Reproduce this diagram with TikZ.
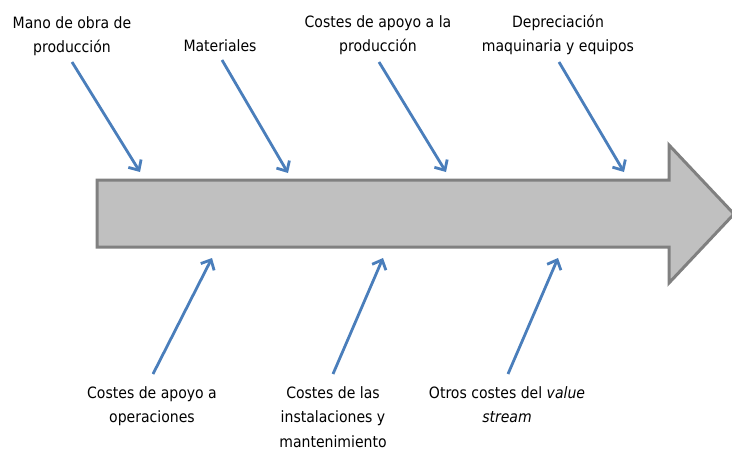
\documentclass[tikz,border=0pt]{standalone}
\usepackage{fontspec}
\setmainfont{DejaVu Sans Condensed}
\usetikzlibrary{arrows.meta}
\definecolor{arrowblue}{HTML}{4A7EBB}
\definecolor{bodygray}{HTML}{C0C0C0}
\definecolor{edgegray}{HTML}{808080}
\begin{document}
\begin{tikzpicture}[x=1pt,y=-1pt,
  lbl/.style={align=center,font=\fontsize{15.6}{24.5}\selectfont,inner sep=0pt},
  cause/.style={draw=arrowblue,line width=2.8pt,-{Straight Barb[length=8pt,width=15pt,line width=2.8pt]}}]
\useasboundingbox (0,0) rectangle (732,448);
% big arrow
\draw[fill=bodygray,draw=edgegray,line width=3pt,line join=miter]
  (97,180) -- (669,180) -- (669,145) -- (734,214) -- (669,283) -- (669,247) -- (97,247) -- cycle;
% labels top
\node[lbl] (l1) at (72,36) {Mano de obra de\\producción};
\node[lbl] (l2) at (220,46) {Materiales};
\node[lbl] (l3) at (378,35) {Costes de apoyo a la\\producción};
\node[lbl] (l4) at (558,35) {Depreciación\\maquinaria y equipos};
% labels bottom
\node[lbl,anchor=north] (l5) at (152,386) {Costes de apoyo a\\operaciones};
\node[lbl,anchor=north] (l6) at (333,386) {Costes de las\\instalaciones y\\mantenimiento};
\node[lbl,anchor=north] (l7) at (507,386) {Otros costes del \textit{value}\\\textit{stream}};
% coordinates
\coordinate (s1) at (72,62);  \coordinate (e1) at (140,172);
\coordinate (s2) at (222,60); \coordinate (e2) at (288,173);
\coordinate (s3) at (379,62); \coordinate (e3) at (446,172);
\coordinate (s4) at (559,62); \coordinate (e4) at (624,172);
\coordinate (s5) at (153,374); \coordinate (e5) at (212,258);
\coordinate (s6) at (333,374); \coordinate (e6) at (383,258);
\coordinate (s7) at (508,374); \coordinate (e7) at (558,258);
\foreach \i in {1,...,7} {\draw[cause] (s\i) -- (e\i);}
\end{tikzpicture}
\end{document}
